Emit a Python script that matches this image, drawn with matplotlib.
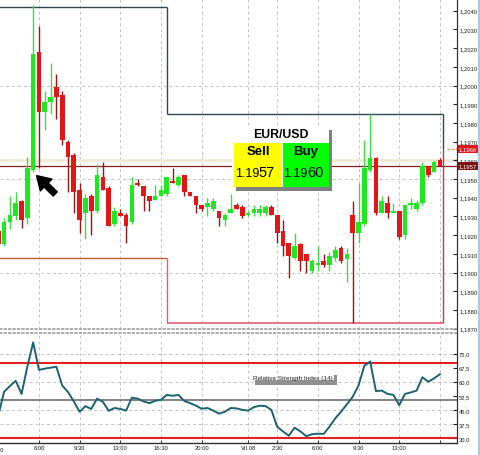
import matplotlib
matplotlib.use("Agg")
import matplotlib.pyplot as plt
import matplotlib.transforms as mtransforms
from matplotlib.patches import Rectangle, FancyArrowPatch
from matplotlib.lines import Line2D
import numpy as np

plt.rcParams['font.family'] = ['Liberation Sans', 'DejaVu Sans']

# EUR/USD, 30 minute bars; bar 0 = 3:00 of the first day
bar_idx = list(range(-1, 76))
opens = [1.1922, 1.1915, 1.1927, 1.1930, 1.1938, 1.1929, 1.1955, 1.2018, 1.1986, 1.1991, 1.1999,
         1.1995, 1.1970, 1.1963, 1.1944, 1.1932, 1.1941, 1.1933, 1.1951, 1.1945, 1.1926,
         1.1932, 1.1931, 1.1927, 1.1948, 1.1946, 1.1941, 1.1939, 1.1941, 1.1942, 1.1949,
         1.1947, 1.1952, 1.1943, 1.1941, 1.1936, 1.1935, 1.1934, 1.1933, 1.1928, 1.1932,
         1.1936, 1.1935, 1.1931, 1.1932, 1.1932, 1.1932, 1.1935, 1.1931, 1.1922, 1.1916,
         1.1908, 1.1915, 1.1910, 1.1901, 1.1904, 1.1906, 1.1904, 1.1908, 1.1913, 1.1907,
         1.1931, 1.1921, 1.1926, 1.1955, 1.1961, 1.1932, 1.1937, 1.1932, 1.1933, 1.1920,
         1.1936, 1.1934, 1.1937, 1.1957, 1.1954, 1.1960]
highs = [1.1923, 1.1929, 1.1941, 1.1943, 1.1939, 1.1962, 1.2043, 1.2032, 1.1997, 1.2012, 1.2006,
         1.1997, 1.1971, 1.1964, 1.1948, 1.1942, 1.1942, 1.1958, 1.1959, 1.1946, 1.1935,
         1.1934, 1.1932, 1.1951, 1.1950, 1.1946, 1.1941, 1.1947, 1.1947, 1.1951, 1.1956,
         1.1952, 1.1952, 1.1943, 1.1941, 1.1936, 1.1940, 1.1940, 1.1933, 1.1932, 1.1942,
         1.1937, 1.1936, 1.1933, 1.1936, 1.1936, 1.1936, 1.1936, 1.1931, 1.1928, 1.1916,
         1.1921, 1.1916, 1.1910, 1.1907, 1.1914, 1.1910, 1.1911, 1.1914, 1.1914, 1.1913,
         1.1938, 1.1948, 1.1971, 1.1985, 1.1962, 1.1941, 1.1941, 1.1937, 1.1933, 1.1936,
         1.1940, 1.1939, 1.1959, 1.1957, 1.1960, 1.1961]
lows = [1.1913, 1.1914, 1.1923, 1.1928, 1.1924, 1.1926, 1.1954, 1.1956, 1.1976, 1.1985, 1.1982,
        1.1968, 1.1943, 1.1932, 1.1921, 1.1918, 1.1920, 1.1932, 1.1944, 1.1925, 1.1925,
        1.1930, 1.1916, 1.1926, 1.1946, 1.1933, 1.1933, 1.1939, 1.1941, 1.1941, 1.1948,
        1.1946, 1.1941, 1.1941, 1.1932, 1.1933, 1.1930, 1.1933, 1.1925, 1.1925, 1.1932,
        1.1934, 1.1929, 1.1930, 1.1930, 1.1930, 1.1930, 1.1931, 1.1916, 1.1909, 1.1897,
        1.1907, 1.1901, 1.1900, 1.1900, 1.1901, 1.1903, 1.1901, 1.1906, 1.1905, 1.1895,
        1.1873, 1.1916, 1.1925, 1.1954, 1.1931, 1.1932, 1.1929, 1.1932, 1.1918, 1.1918,
        1.1934, 1.1933, 1.1936, 1.1951, 1.1954, 1.1957]
closes = [1.1915, 1.1927, 1.1931, 1.1937, 1.1928, 1.1956, 1.2017, 1.1986, 1.1991, 1.1994, 1.1994,
          1.1971, 1.1962, 1.1943, 1.1928, 1.1940, 1.1933, 1.1952, 1.1944, 1.1925, 1.1933,
          1.1930, 1.1925, 1.1947, 1.1947, 1.1941, 1.1938, 1.1941, 1.1944, 1.1951, 1.1948,
          1.1951, 1.1943, 1.1941, 1.1936, 1.1934, 1.1937, 1.1938, 1.1929, 1.1931, 1.1934,
          1.1934, 1.1930, 1.1932, 1.1934, 1.1934, 1.1935, 1.1931, 1.1921, 1.1914, 1.1909,
          1.1914, 1.1906, 1.1906, 1.1906, 1.1905, 1.1904, 1.1909, 1.1912, 1.1906, 1.1910,
          1.1921, 1.1927, 1.1956, 1.1961, 1.1932, 1.1938, 1.1932, 1.1933, 1.1919, 1.1936,
          1.1937, 1.1937, 1.1957, 1.1952, 1.1959, 1.1957]
rsi = [42.0, 54.7, 57.7, 60.5, 53.5, 68.0, 81.0, 66.3, 67.0, 67.5, 68.0,
       58.0, 54.5, 49.5, 44.0, 47.0, 45.5, 51.0, 49.3, 44.5, 46.0,
       45.5, 44.6, 51.5, 51.0, 49.5, 48.6, 49.8, 50.4, 53.0, 52.5,
       53.0, 49.8, 48.6, 47.3, 45.6, 46.0, 44.6, 43.0, 44.0, 46.0,
       45.8, 45.0, 44.6, 46.5, 47.2, 47.0, 45.0, 36.0, 33.5, 31.2,
       35.5, 33.5, 31.0, 32.0, 32.3, 32.2, 36.0, 40.5, 44.0, 48.0,
       52.0, 58.0, 68.5, 70.8, 55.0, 55.3, 53.5, 53.0, 47.5, 53.5,
       54.3, 55.3, 62.4, 60.0, 61.8, 64.0]

bid = 1.1957
ask = 1.1960
marker_level = 1.1966
# daily high / low steps
step_edges = [-1, 28, 75.5]
high_levels = [1.2042, 1.1985]
low_levels = [1.1908, 1.1873]

time_pos = [6, 13, 20, 27, 34, 42, 47, 54, 61, 68, 75]
time_lab = ['6:00', '9:30', '13:00', '16:30', '20:00', 'VII.08', '2:30', '6:00', '9:30', '13:00', '']
price_ticks = np.round(np.arange(1.1870, 1.20405, 0.001), 4)
price_grid = [1.1900, 1.1950, 1.2000]
rsi_ticks = [30.0, 37.5, 45.0, 52.5, 60.0, 67.5, 75.0]
rsi_grid = [37.5, 45.0, 60.0, 75.0]

W, H = 480, 456
fig = plt.figure(figsize=(W / 100, H / 100), dpi=100)
ax = fig.add_axes([0, (H - 330) / H, 457 / W, 330 / H])
ax2 = fig.add_axes([0, (H - 444) / H, 457 / W, 110 / H])

xl = (-0.706, 77.95)
grid_kw = dict(color='#c4c4c4', lw=0.7, ls=(0, (3, 3)), zorder=0)

# ---- price panel
ax.set_xlim(*xl)
ax.set_ylim(1.186979, 1.204626)
for p in time_pos:
    ax.axvline(p, **grid_kw)
for g in price_grid:
    ax.axhline(g, **grid_kw)

ax.axhline(ask, color='#f2ead8', lw=2, zorder=1)
ax.axhline(bid, color='#8b1a1a', lw=0.9, zorder=2)

for i in range(len(bar_idx)):
    up = closes[i] >= opens[i]
    body_c = '#1ee81e' if up else '#e51515'
    wick_c = '#3fdc3f' if up else '#9c1414'
    ax.vlines(bar_idx[i], lows[i], highs[i], color=wick_c, lw=1, zorder=3)
    ax.bar(bar_idx[i], closes[i] - opens[i], bottom=opens[i], width=0.8,
           color=body_c, lw=0, zorder=4)

# high / low step lines
hi_c, lo1_c, lo2_c = '#2f4858', '#c06030', '#e05c78'
ax.hlines(high_levels[0], step_edges[0], step_edges[1], color=hi_c, lw=1, zorder=2)
ax.vlines(step_edges[1], high_levels[1], high_levels[0], color=hi_c, lw=1, zorder=2)
ax.hlines(high_levels[1], step_edges[1], step_edges[2], color=hi_c, lw=1, zorder=2)
ax.vlines(step_edges[2], marker_level, high_levels[1], color=hi_c, lw=1, zorder=2)
ax.hlines(low_levels[0], step_edges[0], step_edges[1], color=lo1_c, lw=1, zorder=2)
ax.vlines(step_edges[1], low_levels[1], low_levels[0], color=lo2_c, lw=1, zorder=2)
ax.hlines(low_levels[1], step_edges[1], step_edges[2], color=lo2_c, lw=1.2, zorder=2)
ax.vlines(step_edges[2], low_levels[1], marker_level, color='#c23a4a', lw=1, zorder=2)
ax.hlines(marker_level, 76.3, xl[1], color='#e8a030', lw=1, ls=(0, (2, 1)), zorder=2)

ax.yaxis.tick_right()
ax.set_yticks(price_ticks)
ax.set_yticklabels([f'{v:.4f}'.replace('.', ',') for v in price_ticks])
ax.tick_params(axis='y', direction='in', length=3, width=0.8, labelsize=4.2, pad=1.5, colors='#202020')
ax.set_xticks([])
for s in ['top', 'left']:
    ax.spines[s].set_visible(False)
ax.spines['right'].set_color('#303030')
ax.spines['right'].set_linewidth(0.8)
ax.spines['bottom'].set_color('#a0a0a0')
ax.spines['bottom'].set_linewidth(1.2)
ax.spines['bottom'].set_linestyle(':')

blend = mtransforms.blended_transform_factory(ax.transAxes, ax.transData)
ax.text(1.004, marker_level, '1,1966', transform=blend, fontsize=4.2, color='white', va='center', ha='left',
        bbox=dict(boxstyle='square,pad=0.3', fc='#e3171c', ec='none'), zorder=20, clip_on=False)
ax.text(1.004, bid, '1,1957', transform=blend, fontsize=4.2, color='white', va='center', ha='left',
        bbox=dict(boxstyle='square,pad=0.3', fc='#7d1414', ec='none'), zorder=20, clip_on=False)

# arrow pointing at the spike bar
ax.add_patch(FancyArrowPatch((8.8, 1.1942), (5.6, 1.19518),
                             arrowstyle='simple,head_length=0.8,head_width=1.0,tail_width=0.35',
                             mutation_scale=12, color='black', shrinkA=0, shrinkB=0, zorder=6))


def pa(x, y):
    return x / 457, 1 - y / 330


def rect(x0, y0, x1, y1, c, z):
    ax.add_patch(Rectangle((x0 / 457, 1 - y1 / 330), (x1 - x0) / 457, (y1 - y0) / 330,
                           transform=ax.transAxes, fc=c, ec='none', zorder=z))


# quote panel
rect(236, 131, 332, 192, '#808080', 10)
rect(232, 127, 329, 188, 'white', 11)
rect(234, 144, 281.7, 188, '#ffff00', 12)
rect(282.7, 144, 329.3, 188, '#00ff00', 12)
ax.text(*pa(281, 135.5), 'EUR/USD', transform=ax.transAxes, fontsize=8.8, fontweight='bold',
        ha='center', va='center', zorder=13)
ax.text(*pa(258, 152), 'Sell', transform=ax.transAxes, fontsize=9.5, fontweight='bold',
        ha='center', va='center', zorder=13)
ax.text(*pa(306, 152), 'Buy', transform=ax.transAxes, fontsize=9.5, fontweight='bold',
        ha='center', va='center', zorder=13)
ax.text(*pa(235, 177), '1.19', transform=ax.transAxes, fontsize=9, ha='left', va='baseline', zorder=13)
ax.text(*pa(258.5, 177), '57', transform=ax.transAxes, fontsize=10.5, ha='left', va='baseline', zorder=13)
ax.text(*pa(283.5, 177), '1.19', transform=ax.transAxes, fontsize=9, ha='left', va='baseline', zorder=13)
ax.text(*pa(307, 177), '60', transform=ax.transAxes, fontsize=10.5, ha='left', va='baseline', zorder=13)

# ---- RSI panel
ax2.set_xlim(*xl)
ax2.set_ylim(27.33, 86)
for p in time_pos:
    ax2.axvline(p, **grid_kw)
for g in rsi_grid:
    ax2.axhline(g, **grid_kw)
ax2.axhline(70, color='#e32020', lw=1.5, zorder=2)
ax2.axhline(30, color='#e32020', lw=1.5, zorder=2)
ax2.axhline(50, color='#6e6e6e', lw=1.2, zorder=2)
ax2.plot(bar_idx, rsi, color='#1d6272', lw=1.4, zorder=4)

ax2.yaxis.tick_right()
ax2.set_yticks(rsi_ticks)
ax2.set_yticklabels([f'{v:.1f}'.replace('.', ',') for v in rsi_ticks])
ax2.tick_params(axis='y', direction='in', length=3, width=0.8, labelsize=4.2, pad=1.5, colors='#202020')
ax2.set_xticks(time_pos)
ax2.set_xticklabels(time_lab)
ax2.tick_params(axis='x', direction='in', length=2, width=0.6, labelsize=4.2, pad=1.5, colors='#202020')
ax2.annotate('2:30', xy=(-1, 0), xycoords=('data', 'axes fraction'), xytext=(0, -2.6),
             textcoords='offset points', ha='center', va='top', fontsize=4.2, color='#202020',
             annotation_clip=False)
ax2.spines['left'].set_visible(False)
ax2.spines['top'].set_color('#a0a0a0')
ax2.spines['top'].set_linewidth(1.2)
ax2.spines['top'].set_linestyle(':')
ax2.spines['right'].set_color('#303030')
ax2.spines['right'].set_linewidth(0.8)
ax2.spines['bottom'].set_color('#303030')
ax2.spines['bottom'].set_linewidth(1)


def pb(x, y):
    return x / 457, 1 - (y - 334) / 110


ax2.add_patch(Rectangle(pb(255, 385.5), 82 / 457, 4.5 / 110, transform=ax2.transAxes,
                        fc='#909090', ec='none', zorder=5))
ax2.add_patch(Rectangle(pb(334, 381), 3 / 457, 5 / 110, transform=ax2.transAxes,
                        fc='#909090', ec='none', zorder=5))
ax2.text(*pb(253, 378.5), 'Relative Strength Index (14)', transform=ax2.transAxes, fontsize=4.6,
         ha='left', va='center', color='#202020', zorder=6)

# frame lines
fig.add_artist(Line2D([457.4 / W, 457.4 / W], [(H - 444) / H, 1], color='#303030', lw=0.8))
fig.add_artist(Line2D([478.8 / W, 478.8 / W], [0, 1], color='#a8cce0', lw=1.5))

fig.savefig('out.png', dpi=100)
